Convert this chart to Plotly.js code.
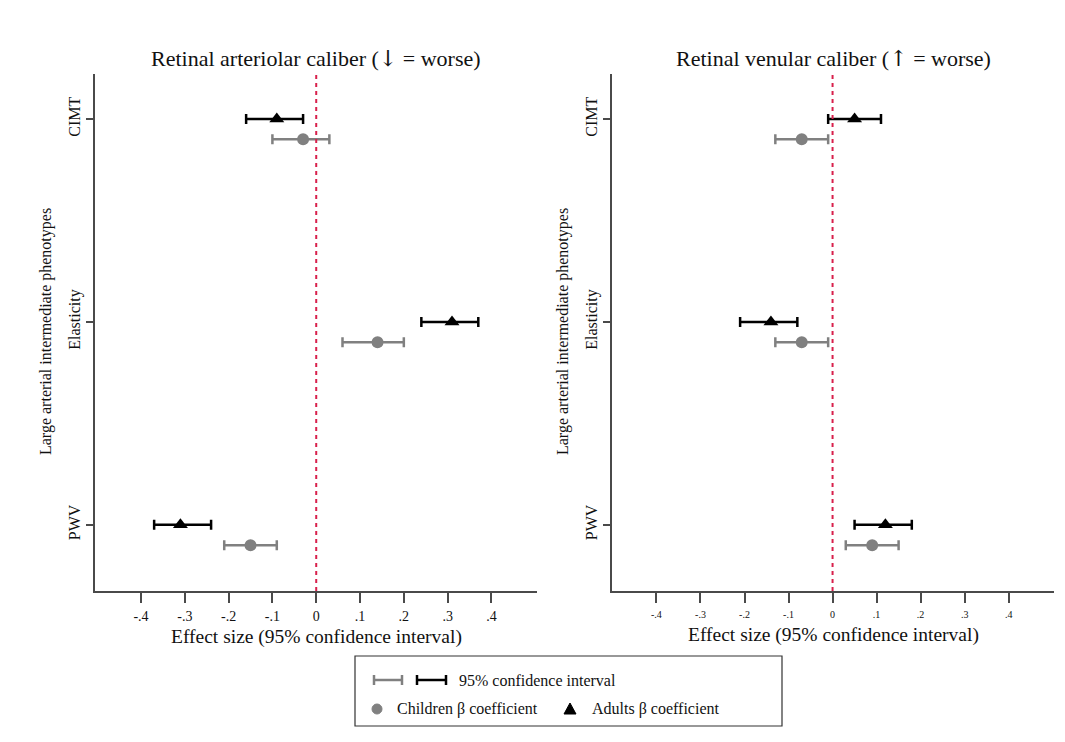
<!DOCTYPE html>
<html>
<head>
<meta charset="utf-8">
<script src="https://cdn.plot.ly/plotly-3.0.1.min.js"></script>
<style>html,body{margin:0;padding:0;background:#fff;}#chart{width:1065px;height:742px;}</style>
</head>
<body>
<div id="chart"></div>
<script>
// ---- Data ----
const categories = ['PWV', 'Elasticity', 'CIMT'];
const categoryPos = [1, 2, 3];
const xTickVals = [-0.4, -0.3, -0.2, -0.1, 0, 0.1, 0.2, 0.3, 0.4];
const xTickText = ['-.4', '-.3', '-.2', '-.1', '0', '.1', '.2', '.3', '.4'];

// Retinal arteriolar caliber
const artAdultEst = [-0.31, 0.31, -0.09];
const artAdultLo  = [-0.37, 0.24, -0.16];
const artAdultHi  = [-0.24, 0.37, -0.03];
const artChildEst = [-0.15, 0.14, -0.03];
const artChildLo  = [-0.21, 0.06, -0.10];
const artChildHi  = [-0.09, 0.20, 0.03];

// Retinal venular caliber
const venAdultEst = [0.12, -0.14, 0.05];
const venAdultLo  = [0.05, -0.21, -0.01];
const venAdultHi  = [0.18, -0.08, 0.11];
const venChildEst = [0.09, -0.07, -0.07];
const venChildLo  = [0.03, -0.13, -0.13];
const venChildHi  = [0.15, -0.01, -0.01];

const childOffset = 0.1;

// ---- Helpers ----
const W = 1065, H = 742;
const PX = p => p / W;
const PY = p => 1 - p / H;
const SERIF = 'Liberation Serif, Times New Roman, serif';
const GREY = '#808080';
const AXC = '#4a4a4a';

function ciTrace(est, lo, hi, ypos, color, symbol, size, xa, ya) {
  return {
    type: 'scatter', mode: 'markers', xaxis: xa, yaxis: ya,
    x: est, y: ypos,
    marker: {symbol: symbol, size: size, color: color},
    error_x: {
      type: 'data', symmetric: false,
      array: hi.map((h, i) => h - est[i]),
      arrayminus: lo.map((l, i) => est[i] - l),
      color: color, thickness: 2.5, width: 5
    },
    hoverinfo: 'x+y'
  };
}
const childY = categoryPos.map(v => v - childOffset);

const traces = [
  ciTrace(artChildEst, artChildLo, artChildHi, childY, GREY, 'circle', 12, 'x', 'y'),
  ciTrace(artAdultEst, artAdultLo, artAdultHi, categoryPos, '#000', 'triangle-up', 13, 'x', 'y'),
  ciTrace(venChildEst, venChildLo, venChildHi, childY, GREY, 'circle', 12, 'x2', 'y2'),
  ciTrace(venAdultEst, venAdultLo, venAdultHi, categoryPos, '#000', 'triangle-up', 13, 'x2', 'y2')
];

const yDomain = [PY(591), PY(74)];
function xAxis(domain, range, anchor, fontSize, standoff) {
  return {
    domain: domain, range: range, anchor: anchor,
    showline: true, linecolor: AXC, linewidth: 2,
    ticks: 'outside', ticklen: 10, tickwidth: 2, tickcolor: AXC,
    tickvals: xTickVals, ticktext: xTickText,
    tickfont: {family: SERIF, size: fontSize, color: '#111'},
    ticklabelstandoff: standoff,
    showgrid: false, zeroline: false, fixedrange: true
  };
}
function yAxis(anchor) {
  return {
    domain: yDomain, range: [0.674, 3.222], anchor: anchor,
    showline: true, linecolor: AXC, linewidth: 2,
    ticks: 'outside', ticklen: 7, tickwidth: 1.5, tickcolor: AXC,
    tickvals: categoryPos, ticktext: categories, tickangle: -90,
    tickfont: {family: SERIF, size: 16, color: '#111'},
    showgrid: false, zeroline: false, fixedrange: true
  };
}

const shapes = [
  {type: 'line', xref: 'x', yref: 'y domain', x0: 0, x1: 0, y0: 0, y1: 1,
   line: {color: '#d8204c', width: 2, dash: '4px,4px'}},
  {type: 'line', xref: 'x2', yref: 'y2 domain', x0: 0, x1: 0, y0: 0, y1: 1,
   line: {color: '#d8204c', width: 2, dash: '4px,4px'}},
  // legend box
  {type: 'rect', xref: 'paper', yref: 'paper', x0: PX(355), x1: PX(782), y0: PY(726), y1: PY(656),
   line: {color: '#333', width: 1.2}, fillcolor: 'rgba(0,0,0,0)'}
];
function legendCI(x0, x1, y, color) {
  shapes.push({type: 'line', xref: 'paper', yref: 'paper', x0: PX(x0), x1: PX(x1), y0: PY(y), y1: PY(y), line: {color: color, width: 2.5}});
  shapes.push({type: 'line', xref: 'paper', yref: 'paper', x0: PX(x0), x1: PX(x0), y0: PY(y - 5), y1: PY(y + 5), line: {color: color, width: 2.5}});
  shapes.push({type: 'line', xref: 'paper', yref: 'paper', x0: PX(x1), x1: PX(x1), y0: PY(y - 5), y1: PY(y + 5), line: {color: color, width: 2.5}});
}
legendCI(374, 402, 680, GREY);
legendCI(417, 446, 680, '#000');
shapes.push({type: 'circle', xref: 'paper', yref: 'paper', x0: PX(372), x1: PX(382), y0: PY(714), y1: PY(704),
  line: {color: GREY, width: 1}, fillcolor: GREY});
shapes.push({type: 'path', xref: 'paper', yref: 'paper',
  path: 'M ' + PX(564) + ' ' + PY(714) + ' L ' + PX(576) + ' ' + PY(714) + ' L ' + PX(570) + ' ' + PY(703) + ' Z',
  line: {color: '#000', width: 1}, fillcolor: '#000'});

function ann(text, x, y, size, opts) {
  return Object.assign({text: text, xref: 'paper', yref: 'paper', x: PX(x), y: PY(y),
    showarrow: false, font: {family: SERIF, size: size, color: '#111'},
    xanchor: 'center', yanchor: 'middle'}, opts || {});
}
const ARR = s => '<span style="font-family:DejaVu Serif;color:#111">' + s + '</span>';
const annotations = [
  ann('Retinal arteriolar caliber (' + ARR('↓') + ' = worse)', 316, 58, 22),
  ann('Retinal venular caliber (' + ARR('↑') + ' = worse)', 833, 58, 22),
  ann('Effect size (95% confidence interval)', 316, 637, 19.5),
  ann('Effect size (95% confidence interval)', 833, 635, 19.5),
  ann('Large arterial intermediate phenotypes', 46, 332, 16, {textangle: -90}),
  ann('Large arterial intermediate phenotypes', 563, 332, 16, {textangle: -90}),
  ann('95% confidence interval', 457, 680, 16, {xanchor: 'left'}),
  ann('Children β coefficient', 395, 709, 16, {xanchor: 'left'}),
  ann('Adults β coefficient', 590, 709, 16, {xanchor: 'left'})
];

const layout = {
  width: W, height: H,
  margin: {l: 0, r: 0, t: 0, b: 0, pad: 0},
  paper_bgcolor: '#fff', plot_bgcolor: '#fff',
  showlegend: false,
  xaxis: xAxis([PX(95), PX(537)], [-0.505, 0.504], 'y', 14, 1),
  yaxis: yAxis('x'),
  xaxis2: xAxis([PX(612), PX(1054)], [-0.501, 0.503], 'y2', 10, 3),
  yaxis2: yAxis('x2'),
  shapes: shapes,
  annotations: annotations,
  font: {family: SERIF}
};

Plotly.newPlot('chart', traces, layout, {displayModeBar: false, staticPlot: true});
</script>
</body>
</html>
